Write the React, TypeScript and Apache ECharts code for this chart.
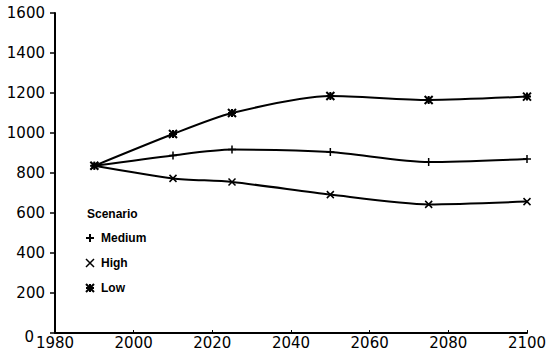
import React, { useEffect, useRef } from "react";
import * as echarts from "echarts";

const years = [1990, 2010, 2025, 2050, 2075, 2100];
const medium = [836, 888, 917, 905, 855, 870];
const high = [836, 773, 755, 692, 643, 657];
const low = [836, 995, 1100, 1185, 1165, 1182];
const xTicks = [1980, 2000, 2020, 2040, 2060, 2080, 2100];
const yTicks = [0, 200, 400, 600, 800, 1000, 1200, 1400, 1600];

const plusPath = "path://M0,5L10,5M5,0L5,10";
const crossPath = "path://M0,0L10,10M10,0L0,10";
const starPath = "path://M0,0L10,10M10,0L0,10M0,5L10,5M5,0L5,10";

const FONT = "'DejaVu Sans', Arial, sans-serif";
const LFONT = "'Liberation Sans', Arial, sans-serif";

export default function App() {
  const ref = useRef<HTMLDivElement>(null);
  useEffect(() => {
    if (!ref.current) return;
    const chart = echarts.init(ref.current, undefined, { renderer: "svg" });
    const mk = (name: string, vals: number[], symbol: string, size: number, bw: number) => ({
      name,
      type: "line",
      smooth: 0.25,
      data: years.map((y, i) => [y, vals[i]]),
      symbol,
      symbolSize: size,
      showSymbol: true,
      lineStyle: { color: "#000", width: 2 },
      itemStyle: { color: "#000", borderColor: "#000", borderWidth: bw },
    });
    chart.setOption({
      animation: false,
      backgroundColor: "#fff",
      grid: { left: 55, right: 23, top: 13, bottom: 22, containLabel: false },
      xAxis: {
        type: "value",
        min: 1980,
        max: 2100,
        interval: 20,
        axisLine: { lineStyle: { color: "#000", width: 2 } },
        axisTick: { show: true, inside: true, length: 3, lineStyle: { color: "#000" } },
        splitLine: { show: false },
        axisLabel: {
          color: "#000",
          fontFamily: FONT,
          fontSize: 15,
          margin: 2,
          formatter: (v: number) => (xTicks.includes(v) ? String(v) : ""),
        },
      },
      yAxis: {
        type: "value",
        min: 0,
        max: 1600,
        interval: 200,
        axisLine: { show: true, lineStyle: { color: "#000", width: 2 } },
        axisTick: { show: true, length: 5, lineStyle: { color: "#000", width: 1.5 } },
        splitLine: { show: false },
        axisLabel: {
          color: "#000",
          fontFamily: FONT,
          fontSize: 15,
          margin: 10,
          formatter: (v: number) => (v === 0 ? "{z|0}" : yTicks.includes(v) ? String(v) : ""),
          rich: {
            z: { color: "#000", fontFamily: FONT, fontSize: 15, padding: [7, 11, 0, 0] },
          },
        },
      },
      legend: {
        orient: "vertical",
        left: 80,
        top: 227,
        itemGap: 13,
        itemWidth: 8,
        itemHeight: 8,
        textStyle: { color: "#000", fontFamily: LFONT, fontSize: 12, fontWeight: "bold", padding: [0, 0, 0, 2] },
        data: [
          { name: "Medium", icon: plusPath, itemStyle: { color: "#000", borderColor: "#000", borderWidth: 2 } },
          { name: "High", icon: crossPath, itemStyle: { color: "#000", borderColor: "#000", borderWidth: 1.5 } },
          { name: "Low", icon: starPath, itemStyle: { color: "#000", borderColor: "#000", borderWidth: 2 } },
        ],
      },
      graphic: [
        {
          type: "text",
          left: 87,
          top: 208,
          style: { text: "Scenario", fill: "#000", font: `bold 12px ${LFONT}` },
        },
      ],
      series: [
        mk("Medium", medium, plusPath, 8, 1.5),
        mk("High", high, crossPath, 7, 1.5),
        mk("Low", low, starPath, 8, 2),
      ],
    });
    return () => chart.dispose();
  }, []);
  return <div ref={ref} style={{ position: "fixed", left: 0, top: 0, width: 550, height: 355 }} />;
}
